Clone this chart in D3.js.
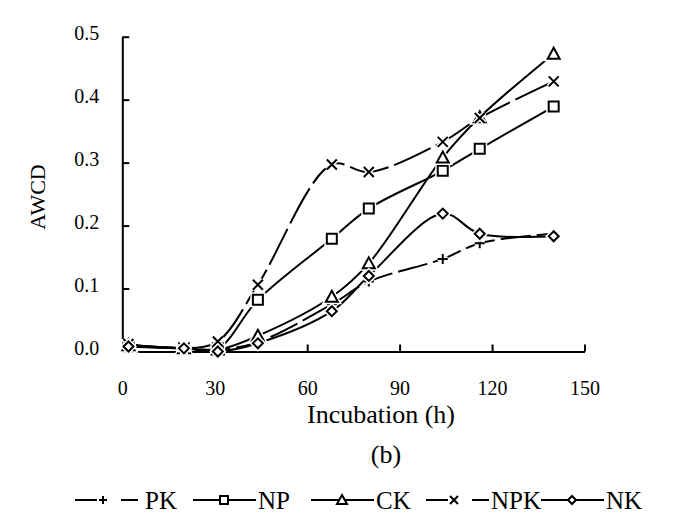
<!DOCTYPE html>
<html><head><meta charset="utf-8">
<script src="https://cdn.jsdelivr.net/npm/d3@7/dist/d3.min.js"></script>
<style>body{margin:0;background:#fff}svg{display:block}svg text{font-family:"Liberation Serif","Times New Roman",serif;fill:#000}</style>
</head><body><svg id="c" width="684" height="523"></svg>
<script>
const times = [2, 20, 31, 44, 68, 80, 104, 116, 140];
const seriesNames = ["PK", "NP", "CK", "NPK", "NK"];
const PK  = [0.010, 0.005, 0.003, 0.015, 0.075, 0.111, 0.147, 0.172, 0.187];
const NP  = [0.008, 0.005, 0.005, 0.082, 0.179, 0.227, 0.287, 0.322, 0.389];
const CK  = [0.010, 0.005, 0.003, 0.025, 0.087, 0.140, 0.308, 0.372, 0.473];
const NPK = [0.012, 0.005, 0.016, 0.106, 0.297, 0.285, 0.333, 0.371, 0.429];
const NK  = [0.008, 0.005, 0.000, 0.013, 0.064, 0.120, 0.219, 0.187, 0.183];
const xTicks = [0, 30, 60, 90, 120, 150];
const yTicks = [0, 0.1, 0.2, 0.3, 0.4, 0.5];

const values = {PK, NP, CK, NPK, NK};
const markers = {PK:"plus", NP:"square", CK:"triangle", NPK:"cross", NK:"diamond"};
const dashes = {PK:"30,6", NP:null, CK:null, NPK:"40,6", NK:null};
const FF = '"Liberation Serif","Times New Roman",serif';

const svg = d3.select("#c");
const x = d3.scaleLinear().domain([0,150]).range([122.3,584.5]);
const y = d3.scaleLinear().domain([0,0.5]).range([351.5,36.7]);

function markerPath(type, s){
  const h = s/2;
  switch(type){
    case "plus": return `M${-h},0L${h},0M0,${-h}L0,${h}`;
    case "cross": return `M${-h},${-h}L${h},${h}M${-h},${h}L${h},${-h}`;
    case "square": return `M${-h},${-h}H${h}V${h}H${-h}Z`;
    case "triangle": return `M0,${-h-1}L${h+1},${h}L${-h-1},${h}Z`;
    case "diamond": return `M0,${-h}L${h},0L0,${h}L${-h},0Z`;
  }
}

// axes
const gx = svg.append("g").attr("transform",`translate(0,${y(0)})`)
  .call(d3.axisBottom(x).tickValues(xTicks).tickSizeInner(-7).tickSizeOuter(0).tickPadding(29).tickFormat(d3.format("d")));
const gy = svg.append("g").attr("transform",`translate(${x(0)},0)`)
  .call(d3.axisLeft(y).tickValues(yTicks).tickSizeInner(-7).tickSizeOuter(0).tickPadding(23).tickFormat(d3.format(".1f")));
[gx,gy].forEach(g=>{
  g.attr("font-family",FF);
  g.select(".domain").attr("stroke","#000").attr("stroke-width",2);
  g.selectAll(".tick line").attr("stroke","#000").attr("stroke-width",2);
  g.selectAll(".tick text").attr("font-size",20);
});
gy.selectAll(".tick text").attr("dy","0.15em");

// lines
const line = d3.line().x((d,i)=>x(times[i])).y(d=>y(d)).curve(d3.curveCatmullRom.alpha(0.5));
const gl = svg.append("g");
seriesNames.forEach(n=>{
  gl.append("path").datum(values[n]).attr("d",line).attr("fill","none")
    .attr("stroke","#000").attr("stroke-width",2).attr("stroke-dasharray",dashes[n]);
});
// markers
seriesNames.forEach(n=>{
  const g = svg.append("g");
  values[n].forEach((v,i)=>{
    const p = markerPath(markers[n], 10);
    g.append("path").attr("d",p).attr("transform",`translate(${x(times[i])},${y(v)})`)
      .attr("fill","#fff").attr("stroke","#fff").attr("stroke-width",5);
    g.append("path").attr("d",p).attr("transform",`translate(${x(times[i])},${y(v)})`)
      .attr("fill",(markers[n]==="plus"||markers[n]==="cross")?"none":"#fff").attr("stroke","#000").attr("stroke-width",2);
  });
});

// titles
svg.append("text").attr("x",381).attr("y",423).attr("text-anchor","middle").attr("font-size",26).attr("font-family",FF).text("Incubation (h)");
svg.append("text").attr("x",386).attr("y",463).attr("text-anchor","middle").attr("font-size",26).attr("font-family",FF).text("(b)");
svg.append("text").attr("transform","translate(45,197) rotate(-90)").attr("text-anchor","middle").attr("font-size",22).attr("font-family",FF).text("AWCD");

// legend
const legendX = [75, 193, 311, 426, 541];
const lg = svg.append("g");
seriesNames.forEach((n,i)=>{
  const x0 = legendX[i], ly = 500;
  lg.append("line").attr("x1",x0).attr("x2",x0+63).attr("y1",ly).attr("y2",ly)
    .attr("stroke","#000").attr("stroke-width",2.2).attr("stroke-dasharray",dashes[n]?"22,24,20":null);
  const mx = dashes[n] ? x0+28 : x0+31;
  lg.append("path").attr("d",markerPath(markers[n],8)).attr("transform",`translate(${mx},${ly})`)
    .attr("fill",(markers[n]==="plus"||markers[n]==="cross")?"none":"#fff").attr("stroke","#000").attr("stroke-width",2);
  lg.append("text").attr("x",x0+(i===0?70:65)).attr("y",ly+9).attr("font-size",25).attr("font-family",FF).text(n);
});
</script></body></html>
